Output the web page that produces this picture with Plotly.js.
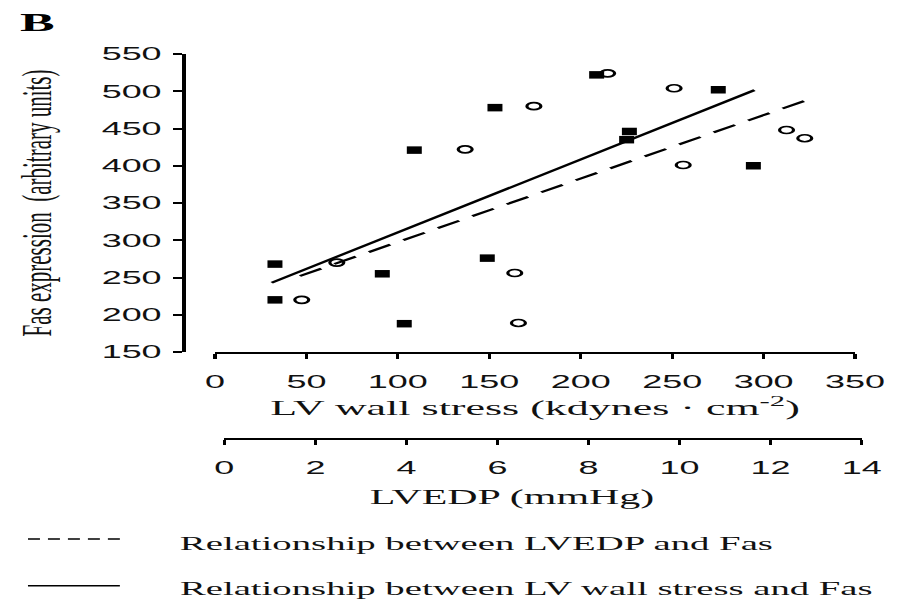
<!DOCTYPE html>
<html>
<head>
<meta charset="utf-8">
<script src="https://cdn.plot.ly/plotly-3.0.1.min.js"></script>
<style>
  html, body { margin: 0; padding: 0; background: #fff; overflow: hidden; }
  #wrap { width: 907px; height: 599px; overflow: hidden; }
  #chart { width: 454px; height: 599px; transform: scaleX(1.99780); transform-origin: 0 0; }
</style>
</head>
<body>
<div id="wrap"><div id="chart"></div></div>
<script>
// LV wall stress vs Fas (filled squares)
const wallStress = [32.8, 32.8, 91.5, 103.5, 109, 148.9, 153.1, 208.7, 225.1, 226.6, 275.2, 294.4];
const fasWall    = [268, 220, 255, 188, 421, 276, 478, 522, 435, 446, 502, 400];
// LVEDP vs Fas (open circles)
const lvedp      = [1.70, 2.47, 5.29, 6.38, 6.46, 6.80, 8.42, 9.88, 10.08, 12.35, 12.75];
const fasLvedp   = [220, 270, 422, 256, 189, 480, 524, 504, 401, 448, 437];
// regression line end points
const wallFitX  = [31, 295];
const wallFitY  = [243, 501.5];
const lvedpFitX = [1.66, 12.79];
const lvedpFitY = [252, 488];
// axes
const wallTicks  = [0, 50, 100, 150, 200, 250, 300, 350];
const lvedpTicks = [0, 2, 4, 6, 8, 10, 12, 14];
const fasTicks   = [150, 200, 250, 300, 350, 400, 450, 500, 550];
const legendLabels = ['Relationship between LVEDP and Fas', 'Relationship between LV wall stress and Fas'];

const ink = '#111';
const tickFont = { family: 'Liberation Sans, Arial, sans-serif', size: 18, color: ink };
const serif = 'Liberation Serif, Times New Roman, serif';

const traces = [
  { x: wallFitX, y: wallFitY, xaxis: 'x', yaxis: 'y', mode: 'lines',
    line: { color: '#000', width: 2 }, showlegend: false, hoverinfo: 'skip' },
  { x: lvedpFitX, y: lvedpFitY, xaxis: 'x2', yaxis: 'y', mode: 'lines',
    line: { color: '#000', width: 2, dash: '13px,8px' }, showlegend: false, hoverinfo: 'skip' },
  { x: wallStress, y: fasWall, xaxis: 'x', yaxis: 'y', mode: 'markers', cliponaxis: false,
    marker: { symbol: 'square', size: 7.5, color: '#000' }, showlegend: false },
  { x: lvedp, y: fasLvedp, xaxis: 'x2', yaxis: 'y', mode: 'markers', cliponaxis: false,
    marker: { symbol: 'circle-open', size: 7, color: '#000', line: { width: 1.6, color: '#000' } }, showlegend: false }
];

const L = 92, R = 22, T = 54, B = 160, W = 454, H = 599;
const pw = W - L - R, ph = H - T - B;
const px = v => (v - L) / pw;          // pre-stretch pixel -> paper x
const py = v => (H - B - v) / ph;      // pixel -> paper y

const layout = {
  width: W, height: H,
  margin: { l: L, r: R, t: T, b: B, pad: 0 },
  paper_bgcolor: '#fff', plot_bgcolor: 'rgba(0,0,0,0)',
  showlegend: false,
  xaxis: {
    domain: [px(107.6), px(428.0)], anchor: 'y', range: [0, 350],
    tickmode: 'array', tickvals: wallTicks, ticktext: wallTicks.map(String),
    showgrid: false, zeroline: false, showline: true, linewidth: 2, linecolor: '#000',
    ticks: 'outside', ticklen: 5, tickwidth: 1.6, tickcolor: '#000',
    tickfont: tickFont, ticklabelstandoff: 7,
    title: { text: 'LV wall stress (kdynes · cm<sup>-2</sup>)', font: { family: serif, size: 22, color: ink }, standoff: 2 }
  },
  xaxis2: {
    domain: [px(112.3), px(431.3)], anchor: 'free', position: 0, range: [0, 14],
    tickmode: 'array', tickvals: lvedpTicks, ticktext: lvedpTicks.map(String),
    showgrid: false, zeroline: false, showline: true, linewidth: 2, linecolor: '#000',
    ticks: 'outside', ticklen: 5, tickwidth: 1.6, tickcolor: '#000',
    tickfont: tickFont, ticklabelstandoff: 7
  },
  yaxis: {
    domain: [py(352), 1], anchor: 'free', position: 0, range: [150, 550],
    tickmode: 'array', tickvals: fasTicks, ticktext: fasTicks.map(String),
    showgrid: false, zeroline: false, showline: true, linewidth: 2, linecolor: '#000',
    ticks: 'outside', ticklen: 4.5, tickwidth: 2, tickcolor: '#000',
    tickfont: tickFont, ticklabelstandoff: 2,
    title: { text: 'Fas expression  (arbitrary units)', font: { family: serif, size: 21, color: ink }, standoff: 18 }
  },
  annotations: [
    { xref: 'paper', yref: 'paper', x: px(7.5), y: py(22.5), xanchor: 'left', yanchor: 'middle',
      text: '<b>B</b>', showarrow: false, font: { family: serif, size: 26, color: '#000' } },
    { xref: 'paper', yref: 'paper', x: px(256.5), y: py(497), xanchor: 'center', yanchor: 'middle',
      text: 'LVEDP (mmHg)', showarrow: false, font: { family: serif, size: 21, color: ink } },
    { xref: 'paper', yref: 'paper', x: px(88), y: py(543), xanchor: 'left', yanchor: 'middle',
      text: legendLabels[0], showarrow: false, font: { family: serif, size: 19.4, color: ink } },
    { xref: 'paper', yref: 'paper', x: px(88), y: py(588.5), xanchor: 'left', yanchor: 'middle',
      text: legendLabels[1], showarrow: false, font: { family: serif, size: 19.4, color: ink } }
  ],
  shapes: [
    { type: 'line', xref: 'paper', yref: 'paper', x0: px(14), x1: px(60), y0: py(539), y1: py(539),
      line: { color: '#000', width: 1.5, dash: '6px,4px' } },
    { type: 'line', xref: 'paper', yref: 'paper', x0: px(14), x1: px(60), y0: py(585.7), y1: py(585.7),
      line: { color: '#000', width: 1.5 } }
  ]
};

Plotly.newPlot('chart', traces, layout, { displayModeBar: false, staticPlot: true });
</script>
</body>
</html>
